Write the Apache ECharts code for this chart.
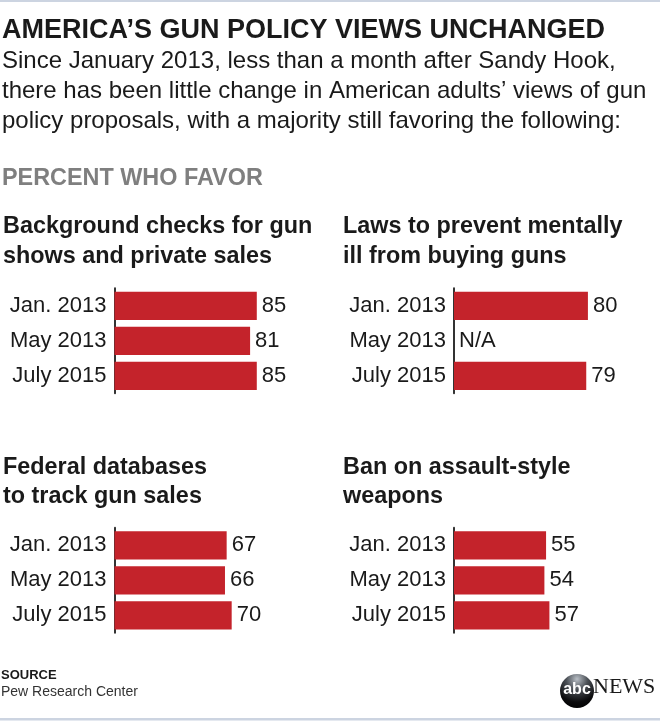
<!DOCTYPE html>
<html>
<head>
<meta charset="utf-8">
<script src="https://cdn.jsdelivr.net/npm/echarts@6/dist/echarts.min.js"></script>
<style>
html,body{margin:0;padding:0;background:#fff;}
#chart{width:660px;height:723px;}
</style>
</head>
<body>
<div id="chart"></div>
<script>
// ---- data ----
var periods = ['Jan. 2013', 'May 2013', 'July 2015'];
var backgroundChecks = [85, 81, 85];
var mentallyIll = [80, null, 79];
var federalDatabase = [67, 66, 70];
var assaultBan = [55, 54, 57];
var panelTitles = [
  ['Background checks for gun', 'shows and private sales'],
  ['Laws to prevent mentally', 'ill from buying guns'],
  ['Federal databases', 'to track gun sales'],
  ['Ban on assault-style', 'weapons']
];
var mainTitle = 'AMERICA\u2019S GUN POLICY VIEWS UNCHANGED';
var subtitleLines = [
  'Since January 2013, less than a month after Sandy Hook,',
  'there has been little change in American adults\u2019 views of gun',
  'policy proposals, with a majority still favoring the following:'
];
var unitLabel = 'PERCENT WHO FAVOR';
var sourceLabel = 'SOURCE';
var sourceName = 'Pew Research Center';
var naLabel = 'N/A';

// ---- layout ----
var FONT = '"Liberation Sans", Arial, sans-serif';
var TXT = '#1a1a1a';
var RED = '#c4232b';
var panels = [
  {data: backgroundChecks, left: 114.5, top: 288.3, tx: 3, ty: 227},
  {data: mentallyIll, left: 454, top: 288.3, tx: 343, ty: 227},
  {data: federalDatabase, left: 114.5, top: 527.8, tx: 3, ty: 467.5},
  {data: assaultBan, left: 454, top: 527.8, tx: 343, ty: 467.5}
];

function txt(x, y, s, size, weight, color, extra) {
  var o = {type: 'text', x: x, y: y, silent: true,
    style: {text: s, fontFamily: FONT, fontSize: size, fontWeight: weight, fill: color,
      align: 'left', verticalAlign: 'middle'}};
  if (extra) for (var k in extra) o.style[k] = extra[k];
  return o;
}

var graphics = [];
graphics.push({type: 'rect', shape: {x: 0, y: 0, width: 660, height: 2}, style: {fill: '#ccd4e1'}, silent: true});
graphics.push({type: 'rect', shape: {x: 0, y: 718, width: 660, height: 2.5}, style: {fill: '#ccd4e1'}, silent: true});
graphics.push(txt(2, 30.5, mainTitle, 27, 'bold', TXT));
subtitleLines.forEach(function (l, i) { graphics.push(txt(2, 61 + i * 30, l, 24, 'normal', TXT)); });
graphics.push(txt(2, 178.5, unitLabel, 23.4, 'bold', '#7f7f7f'));
panels.forEach(function (p, i) {
  graphics.push(txt(p.tx, p.ty, panelTitles[i][0], 23.4, 'bold', TXT));
  graphics.push(txt(p.tx, p.ty + 29.5, panelTitles[i][1], 23.4, 'bold', TXT));
});
graphics.push(txt(1, 675, sourceLabel, 13, 'bold', TXT));
graphics.push(txt(1, 692, sourceName, 14, 'normal', '#333'));
// abc news logo
graphics.push({type: 'circle', shape: {cx: 577, cy: 691, r: 17}, silent: true,
  style: {fill: {type: 'radial', x: 0.5, y: 0.15, r: 0.9, colorStops: [
    {offset: 0, color: '#b9bfc6'}, {offset: 0.35, color: '#4a4f55'}, {offset: 0.75, color: '#0b0b0d'}, {offset: 1, color: '#000'}]}}});
graphics.push({type: 'text', x: 577, y: 689.5, silent: true,
  style: {text: 'abc', fontFamily: FONT, fontSize: 16, fontWeight: 'bold', fill: '#fff', align: 'center', verticalAlign: 'middle'}});
graphics.push({type: 'text', x: 593, y: 687, silent: true,
  style: {text: 'NEWS', fontFamily: '"Liberation Serif", serif', fontSize: 22, fill: '#1a1a1a', align: 'left', verticalAlign: 'middle'}});

var grids = [], xAxes = [], yAxes = [], series = [];
panels.forEach(function (p, i) {
  grids.push({left: p.left, top: p.top, width: 167.4, height: 105, containLabel: false});
  xAxes.push({type: 'value', gridIndex: i, min: 0, max: 100, show: false});
  yAxes.push({type: 'category', gridIndex: i, data: periods, inverse: true,
    axisLine: {show: true, lineStyle: {color: '#333', width: 2}},
    axisTick: {show: false},
    axisLabel: {margin: 8, fontSize: 22, color: TXT, fontFamily: FONT}});
  series.push({type: 'bar', xAxisIndex: i, yAxisIndex: i, barCategoryGap: '19%',
    itemStyle: {color: RED},
    label: {show: true, position: 'right', distance: 5, fontSize: 22, color: TXT, fontFamily: FONT},
    data: p.data.map(function (v) {
      return v == null ? {value: 0, label: {formatter: naLabel}} : v;
    })});
});

var chart = echarts.init(document.getElementById('chart'), null, {renderer: 'canvas'});
chart.setOption({
  animation: false,
  backgroundColor: '#fff',
  grid: grids, xAxis: xAxes, yAxis: yAxes, series: series,
  graphic: graphics
});
</script>
</body>
</html>
